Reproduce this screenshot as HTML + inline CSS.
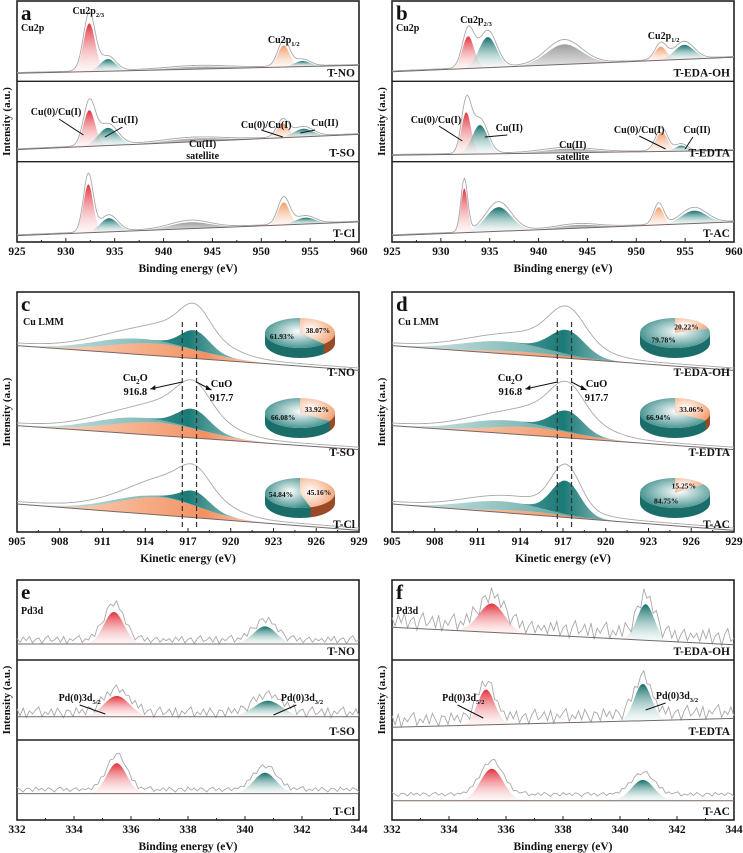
<!DOCTYPE html>
<html><head><meta charset="utf-8">
<style>
html,body{margin:0;padding:0;background:#fff;}
svg{display:block;font-family:"Liberation Serif",serif;font-weight:bold;}
</style></head>
<body>
<svg id="fig" width="743" height="853" viewBox="0 0 743 853" xmlns="http://www.w3.org/2000/svg">
<defs>
<linearGradient id="gRed" x1="0" y1="0" x2="0" y2="1"><stop offset="0" stop-color="#e2303c"/><stop offset="1" stop-color="#fde8e8" stop-opacity="0.3"/></linearGradient>
<linearGradient id="gTeal" x1="0" y1="0" x2="0" y2="1"><stop offset="0" stop-color="#14706c"/><stop offset="1" stop-color="#e6f4f2" stop-opacity="0.3"/></linearGradient>
<linearGradient id="gOrange" x1="0" y1="0" x2="0" y2="1"><stop offset="0" stop-color="#f39a66"/><stop offset="1" stop-color="#fdeee4" stop-opacity="0.4"/></linearGradient>
<linearGradient id="gGrey" x1="0" y1="0" x2="0" y2="1"><stop offset="0" stop-color="#9e9e9e"/><stop offset="1" stop-color="#e6e6e6"/></linearGradient>
<linearGradient id="gTealH" x1="0" y1="0" x2="1" y2="0"><stop offset="0" stop-color="#5fa8a4" stop-opacity="0.5"/><stop offset="0.5" stop-color="#1a7a76"/><stop offset="1" stop-color="#ffffff" stop-opacity="0.1"/></linearGradient>
<linearGradient id="gTealB" x1="0" y1="0" x2="1" y2="0"><stop offset="0" stop-color="#8cc2bf" stop-opacity="0.4"/><stop offset="0.7" stop-color="#2a8580"/><stop offset="1" stop-color="#2a8580"/></linearGradient>
<linearGradient id="gOrangeH" x1="0" y1="0" x2="1" y2="0"><stop offset="0" stop-color="#f7c2a0" stop-opacity="0.6"/><stop offset="0.55" stop-color="#f39060"/><stop offset="1" stop-color="#ffffff" stop-opacity="0.1"/></linearGradient>
<radialGradient id="gPieTeal" cx="0.55" cy="0.45" r="0.7"><stop offset="0" stop-color="#ffffff"/><stop offset="1" stop-color="#1b7b77"/></radialGradient>
<radialGradient id="gPieOrange" cx="0.3" cy="0.45" r="0.8"><stop offset="0" stop-color="#ffffff"/><stop offset="1" stop-color="#f29a66"/></radialGradient>
</defs>
</svg>
<script>
// ===== Data =====
// Panel a (Cu2p) – components: [red, teal, satellite, orange, teal]
const aSamples = ['T-NO','T-SO','T-Cl'];
const aCenters = [[932.4,934.3,943.5,952.3,954.2],[932.4,934.3,943.0,952.2,954.3],[932.3,934.4,942.7,952.3,954.5]];
const aAmps    = [[0.60,0.15,0.03,0.27,0.07],[0.45,0.22,0.04,0.18,0.10],[0.60,0.17,0.08,0.28,0.08]];
const aSigmas  = [[0.6,0.8,3.0,0.6,0.8],[0.6,1.0,3.0,0.6,1.0],[0.5,0.9,2.0,0.6,1.0]];
const aBaseL = [0.10,0.15,0.08]; const aBaseR = [0.20,0.34,0.25];
// Panel b (Cu2p)
const bSamples = ['T-EDA-OH','T-EDTA','T-AC'];
const bCenters = [[932.8,934.8,942.6,952.5,954.9],[932.6,934.0,943.0,952.6,954.6],[932.4,935.9,944.0,952.3,955.9]];
const bAmps    = [[0.40,0.38,0.25,0.17,0.18],[0.52,0.36,0.05,0.24,0.07],[0.55,0.30,0.04,0.22,0.16]];
const bSigmas  = [[0.6,0.9,1.8,0.6,1.0],[0.5,0.8,2.5,0.6,0.6],[0.35,1.3,2.0,0.5,1.3]];
const bBaseL = [0.12,0.08,0.08]; const bBaseR = [0.30,0.14,0.25];
const cuStyles = ['gRed','gTeal','gGrey','gOrange','gTeal'];
const cuTicks = [925,930,935,940,945,950,955,960];
// Panel c / d (Cu LMM): components [orange broad, teal broad, teal sharp] (stacked)
const cSamples = ['T-NO','T-SO','T-Cl'];
const cCenters = [[914.8,912.0,917.5],[914.8,912.0,917.4],[915.0,912.0,917.5]];
const cAmps    = [[0.15,0.07,0.24],[0.16,0.07,0.24],[0.22,0.03,0.18]];
const cSigmas  = [[3.2,2.5,1.0],[3.2,2.5,1.1],[2.8,2.5,1.0]];
const cEnvExtra = [0.22,0.24,0.22];
const cPieCuO  = [61.93,66.08,54.84];
const cPieCu2O = [38.07,33.92,45.16];
const dSamples = ['T-EDA-OH','T-EDTA','T-AC'];
const dCenters = [[914.5,912.5,917.3],[914.8,912.0,917.3],[914.5,912.3,917.2]];
const dAmps    = [[0.04,0.12,0.30],[0.10,0.09,0.26],[0.04,0.11,0.42]];
const dSigmas  = [[3.0,2.8,1.2],[3.0,2.5,1.1],[2.5,2.6,1.0]];
const dEnvExtra = [0.18,0.25,0.06];
const dPieCuO  = [79.78,66.94,84.75];
const dPieCu2O = [20.22,33.06,15.25];
const lmmBaseL = [0.33,0.33,0.35]; const lmmBaseR = [0.02,0.03,0.02];
const lmmTicks = [905,908,911,914,917,920,923,926,929];
const lmmMarks = [916.6,917.6];
// Panel e / f (Pd3d): components [red 3d5/2, teal 3d3/2]
const eSamples = ['T-NO','T-SO','T-Cl'];
const eCenters = [[335.4,340.7],[335.5,340.8],[335.5,340.7]];
const eAmps    = [[0.40,0.22],[0.26,0.20],[0.38,0.26]];
const eSigmas  = [[0.35,0.4],[0.45,0.5],[0.35,0.4]];
const eBaseL = [0.20,0.29,0.33]; const eBaseR = [0.20,0.29,0.33];
const fSamples = ['T-EDA-OH','T-EDTA','T-AC'];
const fCenters = [[335.5,340.9],[335.3,340.8],[335.5,340.8]];
const fAmps    = [[0.36,0.45],[0.44,0.46],[0.40,0.26]];
const fSigmas  = [[0.45,0.3],[0.3,0.3],[0.4,0.4]];
const fBaseL = [0.41,0.16,0.24]; const fBaseR = [0.19,0.27,0.24];
const pdTicks = [332,334,336,338,340,342,344];
const noise = [0.02,-0.03,0.04,-0.01,0.05,-0.04,0.01,0.03,-0.05,0.02,0.06,-0.02,0.00,0.04,-0.03,0.05,-0.05,0.02,-0.01,0.03,0.06,-0.04,0.01,-0.02,0.04,-0.03,0.05,0.00,-0.05,0.03,0.02,-0.04,0.05,-0.01,0.03,-0.03,0.04,0.01,-0.05,0.02,0.05,-0.02,0.03,-0.04,0.01,0.04,-0.03,0.02,-0.01];
const noiseScale = [[0.9,1.2,0.6],[2.0,1.6,0.5]];

// ===== Rendering =====
const svg = document.getElementById('fig');
const NS = 'http://www.w3.org/2000/svg';
function mk(tag, attrs, parent){ const e=document.createElementNS(NS,tag); for(const k in attrs) e.setAttribute(k,attrs[k]); (parent||svg).appendChild(e); return e; }
function txt(x,y,s,size,anchor,parent){ const t=mk('text',{x:x,y:y,'font-size':size,'text-anchor':anchor||'start',fill:'#111'},parent); t.textContent=s; return t; }
function gauss(x,c,a,s){ return a*Math.exp(-0.5*((x-c)/s)**2); }

function frame(P, letter, ticks, xtitle, nrows, dividers){
  const g = mk('g',{});
  
  
  P.g = g;
  const r = mk('rect',{x:P.x0,y:P.y0,width:P.x1-P.x0,height:P.y1-P.y0,fill:'none',stroke:'#222','stroke-width':1.6},g);
  
  
  if(dividers){ for(let i=1;i<nrows;i++){ const yy=P.y0+i*(P.y1-P.y0)/nrows; const l=mk('line',{x1:P.x0,x2:P.x1,y1:yy,y2:yy,stroke:'#222','stroke-width':1.4},g);   } }
  const step = ticks[1]-ticks[0];
  ticks.forEach((t,i)=>{
    const x=P.sx(t);
    mk('line',{x1:x,x2:x,y1:P.y1,y2:P.y1-4,stroke:'#222','stroke-width':1},g);
    if(i<ticks.length-1){ const xm=P.sx(t+step/2); mk('line',{x1:xm,x2:xm,y1:P.y1,y2:P.y1-2,stroke:'#222','stroke-width':1},g); }
    const tl = txt(x,P.y1+13,String(t),11.5,'middle',g);
    
    
  });
  const xt = txt((P.x0+P.x1)/2,P.y1+30,xtitle,11.5,'middle',g);
  
  
  const yt = mk('text',{x:0,y:0,'font-size':11,'text-anchor':'middle',fill:'#111',transform:`translate(${P.x0-7},${(P.y0+P.y1)/2}) rotate(-90)`},g);
  yt.textContent='Intensity (a.u.)';
  
  
  const pl = txt(P.x0+4,P.y0+19,letter,21,'start',g);
  
  
}
function makeP(x0,x1,y0,y1,lo,hi){ const P={x0,x1,y0,y1,lo,hi}; P.sx=v=>x0+(v-lo)/(hi-lo)*(x1-x0); return P; }

function drawRows(P, samples, centers, amps, sigmas, styles, baseL, baseR, opts){
  const n = samples.length, h=(P.y1-P.y0)/n;
  samples.forEach((s,i)=>{
    const top=P.y0+i*h, bot=top+h;
    const sy = v=> bot - v*h;
    const base = x=> baseL[i] + (baseR[i]-baseL[i])*(x-P.lo)/(P.hi-P.lo);
    const N=opts.noise?110:240, xs=[]; for(let k=0;k<=N;k++) xs.push(P.lo+(P.hi-P.lo)*k/N);
    // component fills
    centers[i].forEach((c,j)=>{
      const a=amps[i][j], sg=sigmas[i][j];
      let lo=Math.max(P.lo,c-3*sg), hi=Math.min(P.hi,c+3*sg);
      const below = x=>{ let v=base(x); if(opts.stacked){ for(let q=0;q<j;q++) v+=gauss(x,centers[i][q],amps[i][q],sigmas[i][q]); } return v; };
      if(opts.stacked){ lo=P.lo; hi=P.hi; }
      let d='';
      for(let k=0;k<=100;k++){ const x=lo+(hi-lo)*k/100; d+=(k?'L':'M')+P.sx(x).toFixed(1)+','+sy(below(x)+gauss(x,c,a,sg)).toFixed(1); }
      for(let k=100;k>=0;k--){ const x=lo+(hi-lo)*k/100; d+='L'+P.sx(x).toFixed(1)+','+sy(below(x)).toFixed(1); }
      const p=mk('path',{d:d+'Z',fill:'url(#'+styles[j]+')',stroke:'none'},P.g);
      
      
    });
    // envelope
    let d='';
    xs.forEach((x,k)=>{ let v=base(x); centers[i].forEach((c,j)=>{ v+=gauss(x,c,amps[i][j],sigmas[i][j])*opts.envScale; });
      if(opts.extra){ v+=gauss(x,917,opts.extra[i],2.3); }
      if(opts.noise){ v+=noise[(k+i*13)%noise.length]*opts.noise[i]; }
      v+=opts.envOff; d+=(k?'L':'M')+P.sx(x).toFixed(1)+','+sy(v).toFixed(1); });
    const env=mk('path',{d:d,fill:'none',stroke:'#a9a9a9','stroke-width':0.9},P.g);
    
    
    const bl=mk('line',{x1:P.x0,x2:P.x1,y1:sy(baseL[i]),y2:sy(baseR[i]),stroke:'#7a6666','stroke-width':1},P.g);
    
    
    const ly = opts.labelY ? opts.labelY[i] : bot-5;
    const lab=txt(P.x1-4,ly,s,11.5,'end',P.g);
    
    
  });
}

function pie(cx,cy,cuO,cu2O,g){
  const rx=35, ry=15, dep=10;
  const pg=mk('g',{},g);
  
  
  const fo=cu2O/(cuO+cu2O);
  const ang = -Math.PI/2 + fo*2*Math.PI;
  const ex=cx+rx*Math.cos(ang), ey=cy+ry*Math.sin(ang);
  mk('path',{d:`M${cx-rx},${cy} A${rx},${ry} 0 0 0 ${cx+rx},${cy} L${cx+rx},${cy+dep} A${rx},${ry} 0 0 1 ${cx-rx},${cy+dep} Z`,fill:'#1a6d69'},pg);
  if(ang>0 && ang<Math.PI){ mk('path',{d:`M${cx+rx},${cy} A${rx},${ry} 0 0 1 ${ex},${ey} L${ex},${ey+dep} A${rx},${ry} 0 0 0 ${cx+rx},${cy+dep} Z`,fill:'#9a4a26'},pg); }
  const large = fo>0.5?1:0;
  const o=mk('path',{d:`M${cx},${cy} L${cx},${cy-ry} A${rx},${ry} 0 ${large} 1 ${ex},${ey} Z`,fill:'url(#gPieOrange)'},pg);
   
  const t=mk('path',{d:`M${cx},${cy} L${ex},${ey} A${rx},${ry} 0 ${1-large} 1 ${cx},${cy-ry} Z`,fill:'url(#gPieTeal)'},pg);
   
  const midO=-Math.PI/2+fo*Math.PI, midT=ang+(1-fo)*Math.PI;
  txt(cx+rx*0.55*Math.cos(midO),cy+ry*0.55*Math.sin(midO)+3,cu2O.toFixed(2)+'%',7.5,'middle',pg);
  txt(cx+rx*0.55*Math.cos(midT),cy+ry*0.55*Math.sin(midT)+3,cuO.toFixed(2)+'%',7.5,'middle',pg);
}

function lmmPanel(P,samples,centers,amps,sigmas,extra,cuO,cu2O){
  drawRows(P,samples,centers,amps,sigmas,['gOrangeH','gTealB','gTealH'],lmmBaseL,lmmBaseR,{envScale:1.25,envOff:0.03,stacked:true,extra:extra,labelY:[P.y0+84,P.y0+164,P.y0+236]});
  const h=(P.y1-P.y0)/3;
  samples.forEach((s,i)=>pie(P.x0+283,P.y0+i*h+41,cuO[i],cu2O[i],P.g));
  lmmMarks.forEach(m=>{ const l=mk('line',{x1:P.sx(m),x2:P.sx(m),y1:P.y0+30,y2:P.y1-4,stroke:'#333','stroke-width':1.2,'stroke-dasharray':'5,3'},P.g);   });
  const xa=P.sx(lmmMarks[0]), xb=P.sx(lmmMarks[1]), yy=P.y0+90;
  mk('path',{d:`M${xa},${yy} L${xa-32},${yy+7}`,stroke:'#111','stroke-width':1,fill:'none'},P.g);
  mk('path',{d:`M${xa-32},${yy+7} l5,-4 l0,5 z`,fill:'#111'},P.g);
  mk('path',{d:`M${xb},${yy} L${xb+15},${yy+8}`,stroke:'#111','stroke-width':1,fill:'none'},P.g);
  mk('path',{d:`M${xb+15},${yy+8} l-5,-5 l-1,5 z`,fill:'#111'},P.g);
  const c1=mk('text',{x:xa-47,y:yy-1,'font-size':10.5,'text-anchor':'middle',fill:'#111'},P.g); c1.innerHTML='Cu<tspan font-size="7" dy="3">2</tspan><tspan dy="-3">O</tspan>';
  txt(xa-47,yy+13,'916.8',10.5,'middle',P.g);
  txt(xb+25,yy+5,'CuO',10.5,'middle',P.g);
  txt(xb+25,yy+19,'917.7',10.5,'middle',P.g);
  txt(P.x0+6,P.y0+33,'Cu LMM',10,'start',P.g);
}

function sub(x,y,main,s,size,parent){ const t=mk('text',{x:x,y:y,'font-size':size,'text-anchor':'middle',fill:'#111'},parent); t.innerHTML=main+'<tspan font-size="'+(size*0.65)+'" dy="3">'+s+'</tspan>'; return t; }
function lead(x1,y1,x2,y2,g){ mk('line',{x1,y1,x2,y2,stroke:'#111','stroke-width':1},g); }

// Panel a
const A=makeP(17,359,1,242,925,960); frame(A,'a',cuTicks,'Binding energy (eV)',3,true);
drawRows(A,aSamples,aCenters,aAmps,aSigmas,cuStyles,aBaseL,aBaseR,{envScale:1.2,envOff:0.01});
txt(A.x0+4,A.y0+30,'Cu2p',10,'start',A.g);
sub(A.sx(932.3),A.y0+13,'Cu2p','2/3',10,A.g); sub(A.sx(952.3),A.y0+42,'Cu2p','1/2',10,A.g);
txt(A.sx(929),A.y0+114,'Cu(0)/Cu(I)',10,'middle',A.g); lead(A.sx(929.3),A.y0+118,A.sx(931.8),A.y0+134,A.g);
txt(A.sx(936),A.y0+122,'Cu(II)',10,'middle',A.g); lead(A.sx(935.8),A.y0+126,A.sx(934),A.y0+136,A.g);
txt(A.sx(944),A.y0+146,'Cu(II)',10,'middle',A.g); txt(A.sx(944),A.y0+158,'satellite',10,'middle',A.g);
txt(A.sx(950.5),A.y0+127,'Cu(0)/Cu(I)',10,'middle',A.g); lead(A.sx(950),A.y0+129,A.sx(952.2),A.y0+136,A.g);
txt(A.sx(956.5),A.y0+125,'Cu(II)',10,'middle',A.g); lead(A.sx(955.5),A.y0+129,A.sx(954),A.y0+132,A.g);
// Panel b
const B=makeP(392,734,1,242,925,960); frame(B,'b',cuTicks,'Binding energy (eV)',3,true);
drawRows(B,bSamples,bCenters,bAmps,bSigmas,cuStyles,bBaseL,bBaseR,{envScale:1.2,envOff:0.01});
txt(B.x0+4,B.y0+30,'Cu2p',10,'start',B.g);
sub(B.sx(933.6),B.y0+22,'Cu2p','2/3',10,B.g); sub(B.sx(952.8),B.y0+38,'Cu2p','1/2',10,B.g);
txt(B.sx(929.5),B.y0+122,'Cu(0)/Cu(I)',10,'middle',B.g); lead(B.sx(929.8),B.y0+125,B.sx(932.2),B.y0+140,B.g);
txt(B.sx(937),B.y0+130,'Cu(II)',10,'middle',B.g); lead(B.sx(936.8),B.y0+134,B.sx(934.5),B.y0+136,B.g);
txt(B.sx(943.5),B.y0+147,'Cu(II)',10,'middle',B.g); txt(B.sx(943.5),B.y0+159,'satellite',10,'middle',B.g);
txt(B.sx(950.3),B.y0+132,'Cu(0)/Cu(I)',10,'middle',B.g); lead(B.sx(950.3),B.y0+135,B.sx(953),B.y0+148,B.g);
txt(B.sx(956.2),B.y0+132,'Cu(II)',10,'middle',B.g); lead(B.sx(955.8),B.y0+136,B.sx(955),B.y0+148,B.g);
// Panel c, d
const C=makeP(17,359,292,532,905,929); frame(C,'c',lmmTicks,'Kinetic energy (eV)',3,false);
lmmPanel(C,cSamples,cCenters,cAmps,cSigmas,cEnvExtra,cPieCuO,cPieCu2O);
const D=makeP(392,734,292,532,905,929); frame(D,'d',lmmTicks,'Kinetic energy (eV)',3,false);
lmmPanel(D,dSamples,dCenters,dAmps,dSigmas,dEnvExtra,dPieCuO,dPieCu2O);
// Panel e, f
const E=makeP(17,359,580,820,332,344); frame(E,'e',pdTicks,'Binding energy (eV)',3,true);
drawRows(E,eSamples,eCenters,eAmps,eSigmas,['gRed','gTeal'],eBaseL,eBaseR,{envScale:1.15,envOff:0.05,noise:noiseScale[0]});
txt(E.x0+4,E.y0+34,'Pd3d',10,'start',E.g);
sub(E.sx(334.2),E.y0+121,'Pd(0)3d','5/2',10,E.g); lead(E.sx(334.2),E.y0+125,E.sx(335.1),E.y0+134,E.g);
sub(E.sx(342),E.y0+121,'Pd(0)3d','3/2',10,E.g); lead(E.sx(341.8),E.y0+125,E.sx(341),E.y0+135,E.g);
const F=makeP(392,734,580,820,332,344); frame(F,'f',pdTicks,'Binding energy (eV)',3,true);
drawRows(F,fSamples,fCenters,fAmps,fSigmas,['gRed','gTeal'],fBaseL,fBaseR,{envScale:1.05,envOff:0.08,noise:noiseScale[1]});
txt(F.x0+4,F.y0+34,'Pd3d',10,'start',F.g);
sub(F.sx(334.5),F.y0+121,'Pd(0)3d','5/2',10,F.g); lead(F.sx(334.3),F.y0+125,F.sx(335.2),F.y0+138,F.g);
sub(F.sx(342),F.y0+119,'Pd(0)3d','3/2',10,F.g); lead(F.sx(341.6),F.y0+123,F.sx(340.9),F.y0+130,F.g);
</script>
</body></html>
